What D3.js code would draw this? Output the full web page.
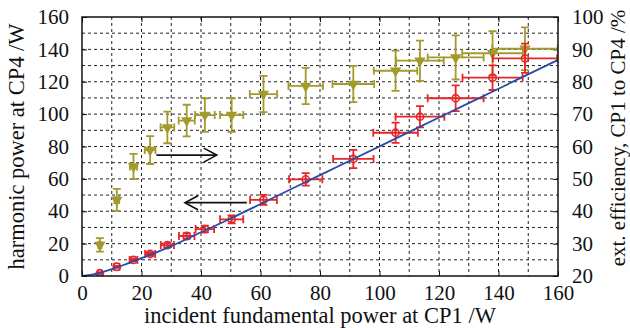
<!DOCTYPE html>
<html>
<head>
<meta charset="utf-8">
<script src="https://cdn.jsdelivr.net/npm/d3@7"></script>
<style>
  body { margin: 0; background: #fff; }
  svg text { font-family: "Liberation Serif", "Times New Roman", serif !important; fill: #111; }
</style>
</head>
<body>
<svg width="630" height="328"></svg>
<script>
// incident fundamental power at CP1 (W) and its uncertainty
var powerIn    = [6.0, 11.7, 17.3, 22.9, 28.7, 35.2, 41.3, 50.3, 61.0, 75.2, 91.2, 105.4, 113.6, 125.6, 138.0, 148.9],
    powerInErr = [0.5, 0.9, 1.3, 1.7, 2.2, 2.6, 3.1, 3.9, 4.5, 5.6, 6.8, 7.5, 8.2, 9.4, 10.1, 10.8];

// harmonic power at CP4 (W), left axis
var harmonic    = [1.7, 5.7, 9.9, 13.6, 19.1, 24.7, 29.0, 35.0, 47.0, 59.7, 72.3, 88.5, 98.4, 109.8, 122.5, 134.5],
    harmonicErr = [0.3, 0.5, 0.8, 1.1, 1.4, 1.7, 2.1, 2.5, 3.1, 3.9, 5.6, 6.2, 6.6, 8.0, 7.6, 9.0];

// ext. efficiency CP1 -> CP4 (%), right axis
var efficiency    = [29.6, 43.5, 53.8, 58.9, 65.9, 68.0, 69.7, 69.7, 76.2, 78.7, 79.3, 83.4, 86.5, 87.5, 88.8, 90.2],
    efficiencyErr = [2.1, 3.4, 3.9, 4.3, 4.9, 4.9, 5.2, 5.2, 5.6, 5.6, 5.6, 6.2, 6.2, 6.8, 6.8, 6.6],
    effXErr       = [0.5, 0.8, 1.2, 1.8, 2.3, 2.7, 3.3, 3.9, 4.6, 5.8, 7.0, 7.3, 8.0, 9.4, 10.2, 11.0];

// fitted curve (blue)
var fitX = [0, 5, 10, 15, 20, 30, 40, 50, 60, 80, 100, 120, 140, 160],
    fitY = [0, 1.5, 4.2, 7.5, 11, 18.5, 27, 35.5, 44.5, 62.3, 80.1, 97.9, 115.7, 133.5];

var xTicks = d3.range(0, 161, 20),
    yTicks = d3.range(0, 161, 20),
    effTicks = d3.range(20, 101, 10),
    gridVals = d3.range(10, 160, 10);

var red = "#e8262a", gold = "#a39a2c", blue = "#2b4ca6";

var margin = {top: 17, right: 72, bottom: 52, left: 82},
    width = 630 - margin.left - margin.right,
    height = 328 - margin.top - margin.bottom;

var svg = d3.select("svg");

var x = d3.scaleLinear().domain([0, 160]).range([0, width]),
    y = d3.scaleLinear().domain([0, 160]).range([height, 0]),
    y2 = d3.scaleLinear().domain([20, 100]).range([height, 0]);

var g = svg.append("g")
    .attr("transform", "translate(" + [margin.left, margin.top] + ")");

svg.append("defs").append("clipPath").attr("id", "clip")
  .append("rect").attr("width", width).attr("height", height);

// grid
var grid = g.append("g")
    .attr("stroke", "#222")
    .attr("stroke-width", 1)
    .attr("stroke-dasharray", "3,3");
grid.selectAll(".gx").data(gridVals).enter().append("line")
    .attr("x1", d => x(d)).attr("x2", d => x(d))
    .attr("y1", 0).attr("y2", height);
grid.selectAll(".gy").data(gridVals).enter().append("line")
    .attr("y1", d => y(d)).attr("y2", d => y(d))
    .attr("x1", 0).attr("x2", width);

// axes (ticks inward)
var fmt = d3.format("d");
g.append("g").attr("transform", "translate(0," + height + ")")
    .call(d3.axisBottom(x).tickValues(xTicks).tickSize(-5).tickPadding(9).tickFormat(fmt))
    .call(styleAxis);
g.append("g")
    .call(d3.axisLeft(y).tickValues(yTicks).tickSize(-5).tickPadding(13).tickFormat(fmt))
    .call(styleAxis);
g.append("g").attr("transform", "translate(" + width + ",0)")
    .call(d3.axisRight(y2).tickValues(effTicks).tickSize(-5).tickPadding(14).tickFormat(fmt))
    .call(styleAxis);
g.append("g")
    .call(d3.axisTop(x).tickValues(xTicks).tickSize(-5).tickFormat(""))
    .call(styleAxis);

function styleAxis(sel) {
    sel.attr("font-family", "Liberation Serif").attr("font-size", 21);
    sel.select(".domain").remove();
    sel.selectAll("line").attr("stroke", "#111").attr("stroke-width", 1);
    sel.selectAll("text").attr("fill", "#111");
}

var plot = g.append("g").attr("clip-path", "url(#clip)");

// gold efficiency series
var effData = powerIn.map((d, i) => ({x: d, ex: effXErr[i], y: efficiency[i], ey: efficiencyErr[i]}));
drawErrors(plot, effData, x, y2, gold, 4);
plot.append("g").selectAll("path").data(effData).enter().append("path")
    .attr("d", d3.symbol().type(d3.symbolTriangle).size(55))
    .attr("transform", d => "translate(" + [x(d.x), y2(d.y)] + ") rotate(180)")
    .attr("fill", gold);

// red harmonic series
var harmData = powerIn.map((d, i) => ({x: d, ex: powerInErr[i], y: harmonic[i], ey: harmonicErr[i]}));
drawErrors(plot, harmData, x, y, red, 4);
plot.append("g").selectAll("circle").data(harmData).enter().append("circle")
    .attr("cx", d => x(d.x)).attr("cy", d => y(d.y)).attr("r", 3.6)
    .attr("fill", "none").attr("stroke", red).attr("stroke-width", 1.6);

// fit line
var line = d3.line().x(d => x(d[0])).y(d => y(d[1])).curve(d3.curveMonotoneX);
plot.append("path").datum(d3.zip(fitX, fitY))
    .attr("d", line).attr("fill", "none").attr("stroke", blue).attr("stroke-width", 1.8);

function drawErrors(parent, data, xs, ys, color, cap) {
    var e = parent.append("g").attr("stroke", color).attr("stroke-width", 1.8).attr("fill", "none");
    data.forEach(d => {
        var cx = xs(d.x), cy = ys(d.y),
            x0 = xs(d.x - d.ex), x1 = xs(d.x + d.ex),
            y0 = ys(d.y - d.ey), y1 = ys(d.y + d.ey);
        e.append("path").attr("d",
            "M" + x0 + "," + cy + "H" + x1 +
            "M" + x0 + "," + (cy - cap) + "V" + (cy + cap) +
            "M" + x1 + "," + (cy - cap) + "V" + (cy + cap) +
            "M" + cx + "," + y0 + "V" + y1 +
            "M" + (cx - cap) + "," + y0 + "H" + (cx + cap) +
            "M" + (cx - cap) + "," + y1 + "H" + (cx + cap));
    });
}

// arrows
function arrow(x0, x1, yv) {
    var dir = x1 > x0 ? -1 : 1;
    var ax = g.append("g").attr("stroke", "#111").attr("stroke-width", 1.6).attr("fill", "none");
    ax.append("line").attr("x1", x(x0)).attr("x2", x(x1)).attr("y1", y(yv)).attr("y2", y(yv));
    ax.append("path").attr("d",
        "M" + (x(x1) + dir * 13) + "," + (y(yv) - 7) + "L" + x(x1) + "," + y(yv) +
        "L" + (x(x1) + dir * 13) + "," + (y(yv) + 7));
}
arrow(25, 45.3, 74.7);
arrow(55.4, 34.6, 45.3);

// frame
g.append("rect").attr("width", width).attr("height", height)
    .attr("fill", "none").attr("stroke", "#111").attr("stroke-width", 1.5);

// titles
svg.append("text")
    .attr("x", margin.left + width / 2).attr("y", 323)
    .attr("text-anchor", "middle").attr("font-size", 22.5)
    .text("incident fundamental power at CP1 /W");
svg.append("text")
    .attr("transform", "translate(24," + (margin.top + height / 2) + ") rotate(-90)")
    .attr("text-anchor", "middle").attr("font-size", 22.5)
    .text("harmonic power at CP4 /W");
svg.append("text")
    .attr("transform", "translate(625," + 138 + ") rotate(-90)")
    .attr("text-anchor", "middle").attr("font-size", 21)
    .text("ext. efficiency, CP1 to CP4 /%");
</script>
</body>
</html>
